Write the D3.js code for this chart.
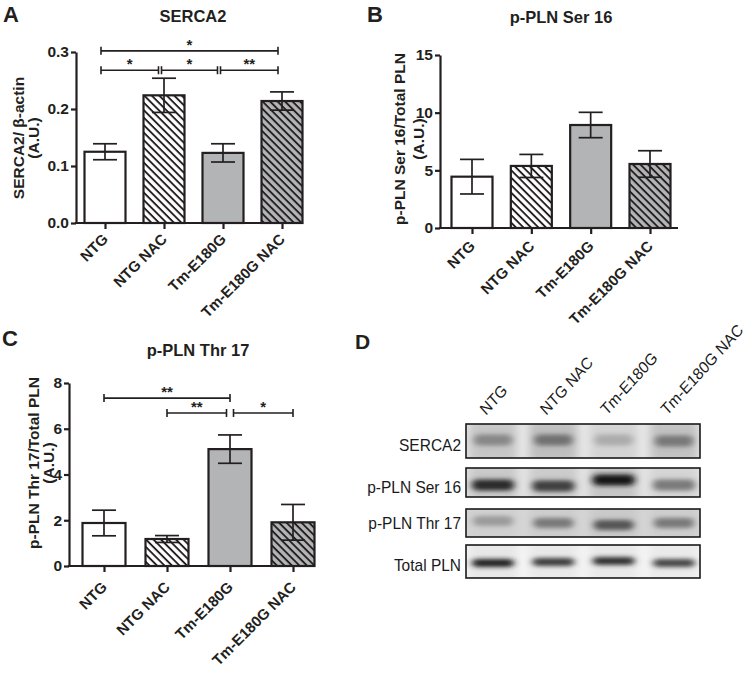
<!DOCTYPE html>
<html>
<head>
<meta charset="utf-8">
<script src="https://cdn.jsdelivr.net/npm/d3@7"></script>
<style>
  body { margin: 0; background: #fff; }
  svg { display: block; font-family: "Liberation Sans", Arial, sans-serif; }
</style>
</head>
<body>
<svg id="fig" width="746" height="679"></svg>
<script>
// groups (same order in every panel)
var groups = ["NTG", "NTG NAC", "Tm-E180G", "Tm-E180G NAC"];

// A - SERCA2 / b-actin
var sercaMean = [0.125, 0.224, 0.123, 0.214];
var sercaSem = [0.014, 0.030, 0.016, 0.016];
var sercaTicks = [0, 0.1, 0.2, 0.3];
// [from, to, height, label]
var sercaSig = [[0, 3, 0.302, "*"], [0, 1, 0.268, "*"], [1, 2, 0.268, "*"], [2, 3, 0.268, "**"]];

// B - p-PLN Ser 16 / total PLN
var ser16Mean = [4.45, 5.38, 8.93, 5.55];
var ser16Sem = [1.5, 1.0, 1.1, 1.15];
var ser16Ticks = [0, 5, 10, 15];

// C - p-PLN Thr 17 / total PLN
var thr17Mean = [1.88, 1.18, 5.11, 1.91];
var thr17Sem = [0.56, 0.15, 0.62, 0.78];
var thr17Ticks = [0, 2, 4, 6, 8];
var thr17Sig = [[0, 2, 7.34, "**"], [1, 2, 6.69, "**"], [2, 3, 6.69, "*"]];

// D - western blot, band darkness 0..1 per lane
var blotLabels = ["SERCA2", "p-PLN Ser 16", "p-PLN Thr 17", "Total PLN"];
var bandSerca2 = [0.45, 0.55, 0.28, 0.52];
var bandSer16 = [0.88, 0.78, 0.98, 0.50];
var bandThr17 = [0.30, 0.47, 0.65, 0.47];
var bandTotal = [0.92, 0.80, 0.85, 0.76];

var ink = "#231f20";
var fontSize = 15;
var svg = d3.select("#fig");
svg.append("rect").attr("width", 746).attr("height", 679).attr("fill", "#fff");
var defs = svg.append("defs");

// hatch patterns
function hatch(id, bg) {
  var p = defs.append("pattern").attr("id", id)
    .attr("patternUnits", "userSpaceOnUse")
    .attr("width", 5.3).attr("height", 5.3)
    .attr("patternTransform", "rotate(-45)");
  p.append("rect").attr("width", 5.3).attr("height", 5.3).attr("fill", bg);
  p.append("line").attr("x1", 2.6).attr("x2", 2.6).attr("y1", 0).attr("y2", 5.3)
    .attr("stroke", ink).attr("stroke-width", 1.9);
}
hatch("hw", "#fff");
hatch("hg", "#b3b4b6");
var fills = ["#fff", "url(#hw)", "#b3b4b6", "url(#hg)"];

function barPanel(o) {
  var g = svg.append("g");
  var x = d3.scalePoint().domain(groups).range([o.c0, o.c1]);
  var y = d3.scaleLinear().domain([0, o.ymax]).range([o.yb, o.yt]);

  // bars
  g.selectAll("rect.bar").data(o.mean).enter().append("rect")
    .attr("class", "bar")
    .attr("x", function(d, i) { return x(groups[i]) - o.bw / 2; })
    .attr("y", function(d) { return y(d); })
    .attr("width", o.bw)
    .attr("height", function(d) { return y(0) - y(d); })
    .attr("fill", function(d, i) { return fills[i]; })
    .attr("stroke", ink).attr("stroke-width", 2.2);

  // error bars
  var eb = g.selectAll("g.err").data(o.mean).enter().append("g")
    .attr("stroke", ink).attr("stroke-width", 1.7);
  eb.append("line")
    .attr("x1", function(d, i) { return x(groups[i]); })
    .attr("x2", function(d, i) { return x(groups[i]); })
    .attr("y1", function(d, i) { return y(d + o.sem[i]); })
    .attr("y2", function(d, i) { return y(d - o.sem[i]); });
  [1, -1].forEach(function(s) {
    eb.append("line")
      .attr("x1", function(d, i) { return x(groups[i]) - 12; })
      .attr("x2", function(d, i) { return x(groups[i]) + 12; })
      .attr("y1", function(d, i) { return y(d + s * o.sem[i]); })
      .attr("y2", function(d, i) { return y(d + s * o.sem[i]); });
  });

  // y axis
  var ya = g.append("g").attr("transform", "translate(" + o.ax + ",0)")
    .call(d3.axisLeft(y).tickValues(o.ticks).tickSize(5).tickSizeOuter(0).tickPadding(2).tickFormat(o.fmt));
  ya.attr("font-size", null).attr("font-family", null);
  ya.select(".domain").attr("stroke", ink).attr("stroke-width", 2.2);
  ya.selectAll(".tick line").attr("stroke", ink).attr("stroke-width", 2.2);
  ya.selectAll(".tick text").attr("fill", ink).style("font-size", "15.5px").attr("font-weight", "bold");

  // x axis
  var xa = g.append("g").attr("transform", "translate(0," + o.yb + ")")
    .call(d3.axisBottom(x).tickSize(6).tickSizeOuter(0).tickFormat(""));
  xa.select(".domain").remove();
  xa.selectAll(".tick line").attr("stroke", ink).attr("stroke-width", 2.2);
  g.append("line").attr("x1", o.ax - 1).attr("x2", o.xend)
    .attr("y1", o.yb).attr("y2", o.yb).attr("stroke", ink).attr("stroke-width", 2.2);
  g.selectAll("text.xl").data(groups).enter().append("text")
    .attr("transform", function(d) { return "translate(" + (x(d) + 4) + "," + (o.yb + o.ldy) + ") rotate(-45)"; })
    .attr("text-anchor", "end").style("font-size", fontSize + "px").attr("font-weight", "bold").attr("fill", ink)
    .text(function(d) { return d; });

  // y label
  o.ylab.forEach(function(t, k) {
    g.append("text")
      .attr("transform", "translate(" + o.ylx[k] + "," + o.ylc + ") rotate(-90)")
      .attr("text-anchor", "middle").style("font-size", "15.5px").attr("font-weight", "bold").attr("fill", ink)
      .text(t);
  });

  // title + panel letter
  g.append("text").attr("x", o.tx).attr("y", o.ty).attr("text-anchor", "middle")
    .style("font-size", "16.5px").attr("font-weight", "bold").attr("fill", ink).text(o.title);
  g.append("text").attr("x", o.lx).attr("y", o.ly)
    .style("font-size", "22px").attr("font-weight", "bold").attr("fill", ink).text(o.letter);

  // significance brackets
  (o.sig || []).forEach(function(s) {
    var shL = o.sig.some(function(t) { return t !== s && t[2] === s[2] && t[1] === s[0]; });
    var shR = o.sig.some(function(t) { return t !== s && t[2] === s[2] && t[0] === s[1]; });
    var x1 = x(groups[s[0]]) + o.bdx + (shL ? o.gap : 0);
    var x2 = x(groups[s[1]]) + o.bdx - (shR ? o.gap : 0);
    var yy = y(s[2]);
    var b = g.append("g").attr("stroke", ink).attr("stroke-width", 1.6);
    b.append("line").attr("x1", x1).attr("x2", x2).attr("y1", yy).attr("y2", yy);
    b.append("line").attr("x1", x1).attr("x2", x1).attr("y1", yy - 4).attr("y2", yy + 4);
    b.append("line").attr("x1", x2).attr("x2", x2).attr("y1", yy - 4).attr("y2", yy + 4);
    g.append("text").attr("x", (x1 + x2) / 2).attr("y", yy - 1).attr("text-anchor", "middle")
      .style("font-size", "15px").attr("font-weight", "bold").attr("fill", ink).text(s[3]);
  });
}

barPanel({
  mean: sercaMean, sem: sercaSem, ticks: sercaTicks, ymax: 0.3, fmt: d3.format(".1f"), sig: sercaSig,
  c0: 105, c1: 282, bw: 41, yb: 223, yt: 52, ax: 76, xend: 302, ldy: 17,
  ylab: ["SERCA2/ \u03b2-actin", "(A.U.)"], ylx: [24, 39], ylc: 138,
  title: "SERCA2", tx: 193, ty: 22, letter: "A", lx: 3, ly: 22, bdx: -4, gap: 1.5
});
barPanel({
  mean: ser16Mean, sem: ser16Sem, ticks: ser16Ticks, ymax: 15, fmt: d3.format("d"),
  c0: 472, c1: 650, bw: 41, yb: 228, yt: 55, ax: 440, xend: 678, ldy: 19,
  ylab: ["p-PLN Ser 16/Total PLN", "(A.U.)"], ylx: [405, 424], ylc: 139,
  title: "p-PLN Ser 16", tx: 561, ty: 23, letter: "B", lx: 367, ly: 22
});
barPanel({
  mean: thr17Mean, sem: thr17Sem, ticks: thr17Ticks, ymax: 8, fmt: d3.format("d"), sig: thr17Sig,
  c0: 104, c1: 293, bw: 43, yb: 566, yt: 383, ax: 69, xend: 300, ldy: 22,
  ylab: ["p-PLN Thr 17/Total PLN", "(A.U.)"], ylx: [39, 54], ylc: 463,
  title: "p-PLN Thr 17", tx: 198, ty: 356, letter: "C", lx: 2, ly: 346, bdx: 0, gap: 3.5
});

// ---- D: blot ----
var blot = svg.append("g");
blot.append("text").attr("x", 355).attr("y", 349).style("font-size", "21px").attr("font-weight", "bold")
  .attr("fill", ink).text("D");

var lane = d3.scalePoint().domain(groups).range([493, 674]);
var boxX0 = 466, boxX1 = 700;
var rows = [
  { name: blotLabels[0], band: bandSerca2, y0: 424, y1: 458, by: [440, 440, 440, 441], bh: 11, bw: 38, bg: "#e8e8e8", smear: 0.35, base: 451 },
  { name: blotLabels[1], band: bandSer16, y0: 468, y1: 497, by: [485, 486, 480, 485], bh: 11, bw: 42, bg: "#e4e4e4", smear: 0.15, base: 493 },
  { name: blotLabels[2], band: bandThr17, y0: 509, y1: 537, by: [521, 523, 525, 523], bh: 10, bw: 40, bg: "#d6d6d6", smear: 0.1, base: 529 },
  { name: blotLabels[3], band: bandTotal, y0: 545, y1: 578, by: [563, 562, 561, 563], bh: 8, bw: 42, bg: "#f4f4f4", smear: 0.06, base: 571 }
];

var blur = defs.append("filter").attr("id", "blur").attr("x", "-40%").attr("y", "-150%")
  .attr("width", "180%").attr("height", "400%");
blur.append("feGaussianBlur").attr("stdDeviation", "3.5 2.3");
var blurWide = defs.append("filter").attr("id", "blurw").attr("x", "-40%").attr("y", "-50%")
  .attr("width", "180%").attr("height", "200%");
blurWide.append("feGaussianBlur").attr("stdDeviation", "5 6");

rows.forEach(function(r, k) {
  var cid = "clip" + k;
  defs.append("clipPath").attr("id", cid).append("rect")
    .attr("x", boxX0).attr("y", r.y0).attr("width", boxX1 - boxX0).attr("height", r.y1 - r.y0);
  var rg = blot.append("g");
  var inner = rg.append("g").attr("clip-path", "url(#" + cid + ")");
  inner.append("rect").attr("x", boxX0).attr("y", r.y0).attr("width", boxX1 - boxX0)
    .attr("height", r.y1 - r.y0).attr("fill", r.bg);
  var col = d3.interpolateRgb(r.bg, "#101010");
  // lane smear
  inner.selectAll("rect.smear").data(r.band).enter().append("rect")
    .attr("x", function(d, i) { return lane(groups[i]) - 24; })
    .attr("y", r.y0 - 6).attr("width", 48).attr("height", r.y1 - r.y0 + 12)
    .attr("fill", function(d) { return col(d * r.smear); })
    .attr("filter", "url(#blurw)");
  // bands
  inner.selectAll("rect.band").data(r.band).enter().append("rect")
    .attr("x", function(d, i) { return lane(groups[i]) - r.bw / 2; })
    .attr("y", function(d, i) { return r.by[i] - r.bh / 2; })
    .attr("width", r.bw).attr("height", r.bh).attr("rx", 5)
    .attr("fill", function(d) { return col(d); })
    .attr("filter", "url(#blur)");
  rg.append("rect").attr("x", boxX0).attr("y", r.y0).attr("width", boxX1 - boxX0)
    .attr("height", r.y1 - r.y0).attr("fill", "none").attr("stroke", "#1a1a1a").attr("stroke-width", 1.6);
  rg.append("text").attr("transform", "translate(461," + r.base + ") scale(1,1.12)")
    .attr("text-anchor", "end").style("font-size", "15.5px").attr("fill", "#1a1a1a").text(r.name);
});

blot.selectAll("text.lane").data(groups).enter().append("text")
  .attr("transform", function(d) { return "translate(" + (lane(d) - 7) + ",416) scale(1,1.1) rotate(-45)"; })
  .style("font-size", "15px").attr("fill", "#1a1a1a")
  .text(function(d) { return d; });
</script>
</body>
</html>
